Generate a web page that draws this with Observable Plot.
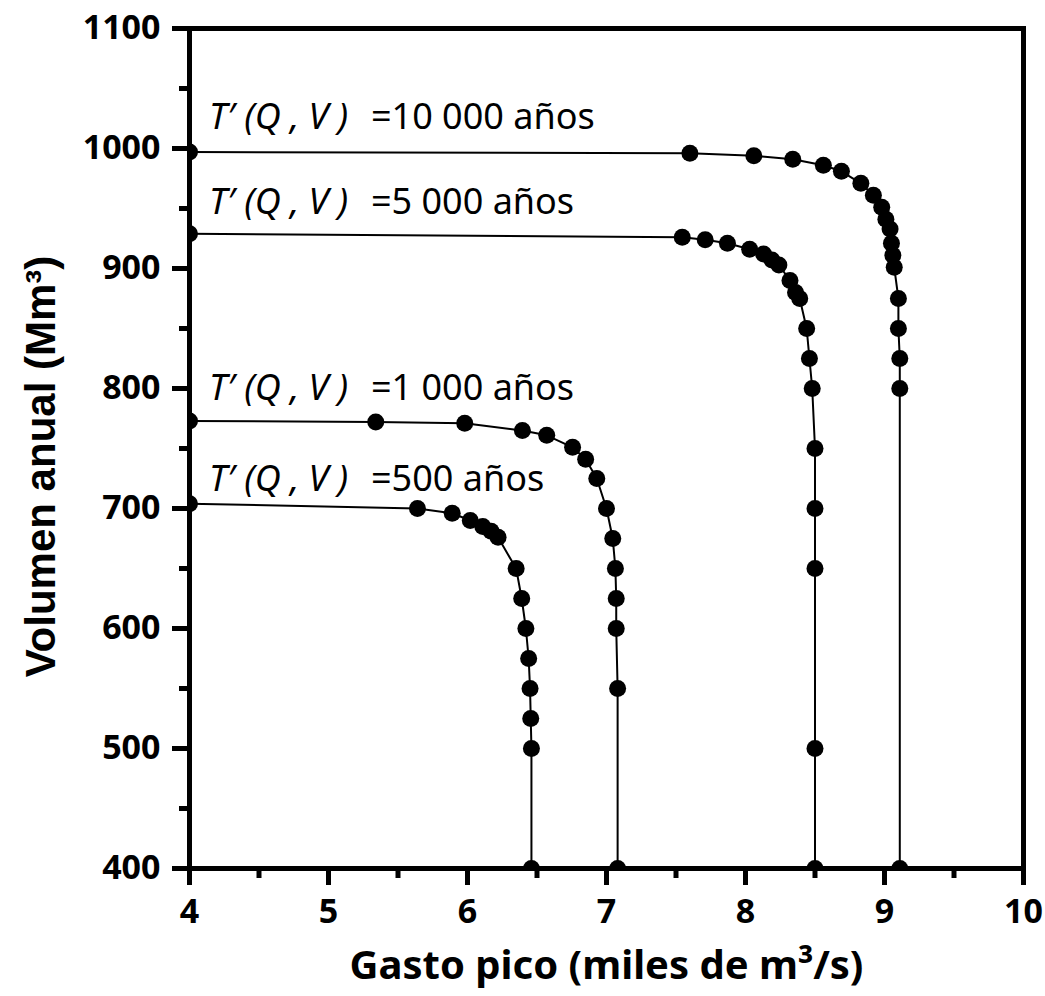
<!DOCTYPE html>
<html><head><meta charset="utf-8">
<script src="https://cdn.jsdelivr.net/npm/d3@7"></script>
<script src="https://cdn.jsdelivr.net/npm/@observablehq/plot@0.6"></script>
<style>body{margin:0;background:#fff} svg{display:block}</style>
</head><body><div id="chart"></div>
<script>
// Periods of return (labels)
const seriesNames = ["10 000", "5 000", "1 000", "500"];

// T'(Q,V) = 10 000 años
const q10000 = [4, 7.60, 8.06, 8.34, 8.56, 8.69, 8.83, 8.92, 8.98, 9.01, 9.04, 9.05, 9.06, 9.07, 9.10, 9.10, 9.11, 9.11, 9.11];
const v10000 = [997, 996, 994, 991, 986, 981, 971, 961, 951, 941, 933, 921, 911, 901, 875, 850, 825, 800, 400];
// T'(Q,V) = 5 000 años
const q5000 = [4, 7.545, 7.71, 7.87, 8.03, 8.13, 8.19, 8.24, 8.32, 8.36, 8.39, 8.44, 8.46, 8.48, 8.50, 8.50, 8.50, 8.50, 8.50];
const v5000 = [929, 926, 924, 921, 916, 912, 907, 903, 890, 880, 875, 850, 825, 800, 750, 700, 650, 500, 400];
// T'(Q,V) = 1 000 años
const q1000 = [4, 5.34, 5.98, 6.395, 6.57, 6.756, 6.85, 6.93, 7.00, 7.045, 7.064, 7.07, 7.07, 7.08, 7.08];
const v1000 = [773, 772, 771, 765, 761, 751, 741, 725, 700, 675, 650, 625, 600, 550, 400];
// T'(Q,V) = 500 años
const q500 = [4, 5.64, 5.89, 6.02, 6.11, 6.17, 6.22, 6.35, 6.39, 6.42, 6.44, 6.45, 6.455, 6.46, 6.46];
const v500 = [704, 700, 696, 690, 685, 681, 676, 650, 625, 600, 575, 550, 525, 500, 400];

// label anchor values (data units)
const labelQ = [4.14, 4.14, 4.14, 4.14];
const labelV = [1025.5, 954.7, 800, 724.1];

const xTicks = [4, 5, 6, 7, 8, 9, 10];
const xMinor = [4.5, 5.5, 6.5, 7.5, 8.5, 9.5];
const yTicks = [400, 500, 600, 700, 800, 900, 1000, 1100];
const yMinor = [450, 550, 650, 750, 850, 950, 1050];

const qs = [q10000, q5000, q1000, q500];
const vs = [v10000, v5000, v1000, v500];
const data = seriesNames.flatMap((s, i) => qs[i].map((q, j) => ({serie: s, q, v: vs[i][j]})));
const labels = seriesNames.map((s, i) => ({serie: s, q: labelQ[i], v: labelV[i]}));

const tickFont = "'Noto Sans', sans-serif";
const chart = Plot.plot({
  width: 1045,
  height: 996,
  marginLeft: 189,
  marginRight: 22,
  marginTop: 28,
  marginBottom: 128,
  x: {domain: [4, 10]},
  y: {domain: [400, 1100]},
  style: {background: "#fff", color: "#000"},
  marks: [
    Plot.line(data, {x: "q", y: "v", z: "serie", stroke: "#000", strokeWidth: 2, clip: true}),
    Plot.dot(data, {x: "q", y: "v", r: 8.5, fill: "#000", stroke: "none", clip: true}),
    Plot.text(labels, {x: "q", y: "v", text: () => "T\u2032 (Q , V )", textAnchor: "start",
      fontStyle: "italic", fontSize: 36, fontFamily: "'Noto Sans', sans-serif", fill: "#000"}),
    Plot.text(labels, {x: "q", y: "v", text: d => "=" + d.serie + " años", textAnchor: "start", dx: 162,
      fontSize: 36, fontFamily: "'Noto Sans', sans-serif", fill: "#000"}),
    Plot.frame({stroke: "#000", strokeWidth: 5}),
    Plot.axisX(xTicks, {anchor: "bottom", tickSize: 17, tickPadding: 13, strokeWidth: 5, label: null,
      tickFormat: d => String(d), fontSize: 34, fontWeight: "bold", fontFamily: tickFont}),
    Plot.axisX(xMinor, {anchor: "bottom", tickSize: 10, strokeWidth: 5, label: null, tickFormat: () => ""}),
    Plot.axisY(yTicks, {anchor: "left", tickSize: 17, tickPadding: 12, strokeWidth: 5, label: null,
      tickFormat: d => String(d), fontSize: 34, fontWeight: "bold", fontFamily: tickFont}),
    Plot.axisY(yMinor, {anchor: "left", tickSize: 10, strokeWidth: 5, label: null, tickFormat: () => ""}),
    Plot.text(["Gasto pico (miles de m³/s)"], {text: d => d, frameAnchor: "bottom", dy: 110,
      fontSize: 40, fontWeight: "bold", fontFamily: tickFont, fill: "#000"}),
    Plot.text(["Volumen anual (Mm³)"], {text: d => d, frameAnchor: "left", textAnchor: "middle", dx: -148, dy: 18, rotate: -90,
      fontSize: 42, fontWeight: "bold", fontFamily: "'Liberation Sans', Arial, sans-serif", fill: "#000"})
  ]
});
document.getElementById("chart").appendChild(chart);
</script>
</body></html>
